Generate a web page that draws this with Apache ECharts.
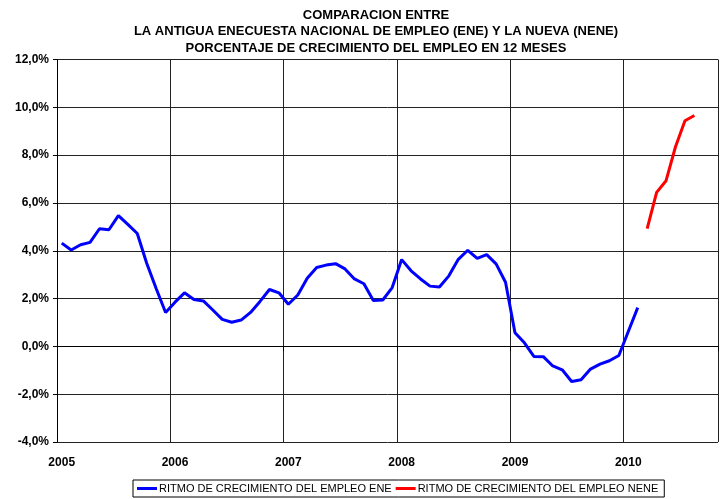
<!DOCTYPE html>
<html>
<head>
<meta charset="utf-8">
<script src="https://cdn.jsdelivr.net/npm/echarts@6/dist/echarts.min.js"></script>
<style>html,body{margin:0;padding:0;background:#fff}#c{width:722px;height:499px}</style>
</head>
<body>
<div id="c"></div>
<script>
// Monthly categories Jan 2005 .. Oct 2010
var years = [2005, 2006, 2007, 2008, 2009, 2010];
var monthsInLastYear = 10;
// ENE: Jan 2005 .. Feb 2010
var ene = [
  4.32, 4.03, 4.25, 4.35, 4.92, 4.88, 5.47, 5.10, 4.72, 3.48, 2.42, 1.42,
  1.85, 2.24, 1.96, 1.90, 1.52, 1.13, 1.01, 1.10, 1.42, 1.88, 2.38, 2.24,
  1.76, 2.15, 2.85, 3.30, 3.40, 3.46, 3.24, 2.82, 2.62, 1.92, 1.94, 2.46,
  3.63, 3.16, 2.82, 2.52, 2.48, 2.95, 3.64, 4.02, 3.68, 3.84, 3.45, 2.68,
  0.57, 0.15, -0.42, -0.43, -0.82, -0.98, -1.47, -1.40, -0.95, -0.74, -0.60, -0.38,
  0.62, 1.62
];
// NENE: Mar 2010 .. Aug 2010
var nene = [4.93, 6.44, 6.93, 8.35, 9.44, 9.66];
var neneStart = 62;
var yTicks = {min: -4, max: 12, step: 2};
var legendNames = ['RITMO DE CRECIMIENTO DEL EMPLEO ENE', 'RITMO DE CRECIMIENTO DEL EMPLEO NENE'];
var titleText = 'COMPARACION ENTRE\nLA ANTIGUA ENECUESTA NACIONAL DE EMPLEO (ENE) Y LA NUEVA (NENE)\nPORCENTAJE DE CRECIMIENTO DEL EMPLEO EN 12 MESES';

var cats = [];
years.forEach(function (y, i) {
  var n = (i === years.length - 1) ? monthsInLastYear : 12;
  for (var m = 1; m <= n; m++) cats.push(y + '-' + (m < 10 ? '0' + m : m));
});
var eneData = cats.map(function (c, i) { return i < ene.length ? ene[i] : null; });
var neneData = cats.map(function (c, i) {
  var k = i - neneStart;
  return (k >= 0 && k < nene.length) ? nene[k] : null;
});

var font = 'Liberation Sans, Arial, sans-serif';
var yearInterval = function (idx) { return idx % 12 === 0; };

var chart = echarts.init(document.getElementById('c'), null, {renderer: 'canvas'});
chart.setOption({
  animation: false,
  backgroundColor: '#fff',
  title: {
    text: titleText,
    left: 371, top: 2, textAlign: 'center',
    textStyle: {fontFamily: font, fontSize: 13, fontWeight: 'bold', color: '#000', lineHeight: 16.5}
  },
  grid: {left: 57, right: 4, top: 59.5, bottom: 57, containLabel: false},
  xAxis: {
    type: 'category',
    data: cats,
    boundaryGap: true,
    axisLine: {show: true, lineStyle: {color: '#000', width: 1}},
    axisTick: {show: true, interval: yearInterval, length: 5, lineStyle: {color: '#000'}},
    splitLine: {show: true, interval: yearInterval, lineStyle: {color: '#222', width: 1}},
    axisLabel: {
      interval: yearInterval, margin: 15,
      fontFamily: font, fontSize: 12, fontWeight: 'bold', color: '#000',
      formatter: function (v) { return v.slice(0, 4); }
    }
  },
  yAxis: {
    type: 'value',
    min: yTicks.min, max: yTicks.max, interval: yTicks.step,
    axisLine: {show: true, lineStyle: {color: '#000', width: 1}},
    axisTick: {show: true, length: 4, lineStyle: {color: '#000'}},
    splitLine: {show: true, lineStyle: {color: '#222', width: 1}},
    axisLabel: {
      margin: 8, fontFamily: font, fontSize: 12, fontWeight: 'bold', color: '#000',
      formatter: function (v) { return v.toFixed(1).replace('.', ',') + '%'; }
    }
  },
  legend: {
    bottom: 2, left: 133,
    itemWidth: 20, itemHeight: 3, itemGap: 4,
    padding: [3, 6, 3, 4],
    borderColor: '#000', borderWidth: 1, borderRadius: 0,
    icon: 'rect',
    textStyle: {fontFamily: font, fontSize: 11, color: '#000', padding: [0, 0, 0, -3]},
    data: legendNames
  },
  series: [
    {name: legendNames[0], type: 'line', data: eneData, symbol: 'none', connectNulls: false,
     lineStyle: {color: '#0000ff', width: 3}, itemStyle: {color: '#0000ff'}},
    {name: legendNames[1], type: 'line', data: neneData, symbol: 'none', connectNulls: false,
     lineStyle: {color: '#ff0000', width: 3}, itemStyle: {color: '#ff0000'}}
  ]
});
</script>
</body>
</html>
